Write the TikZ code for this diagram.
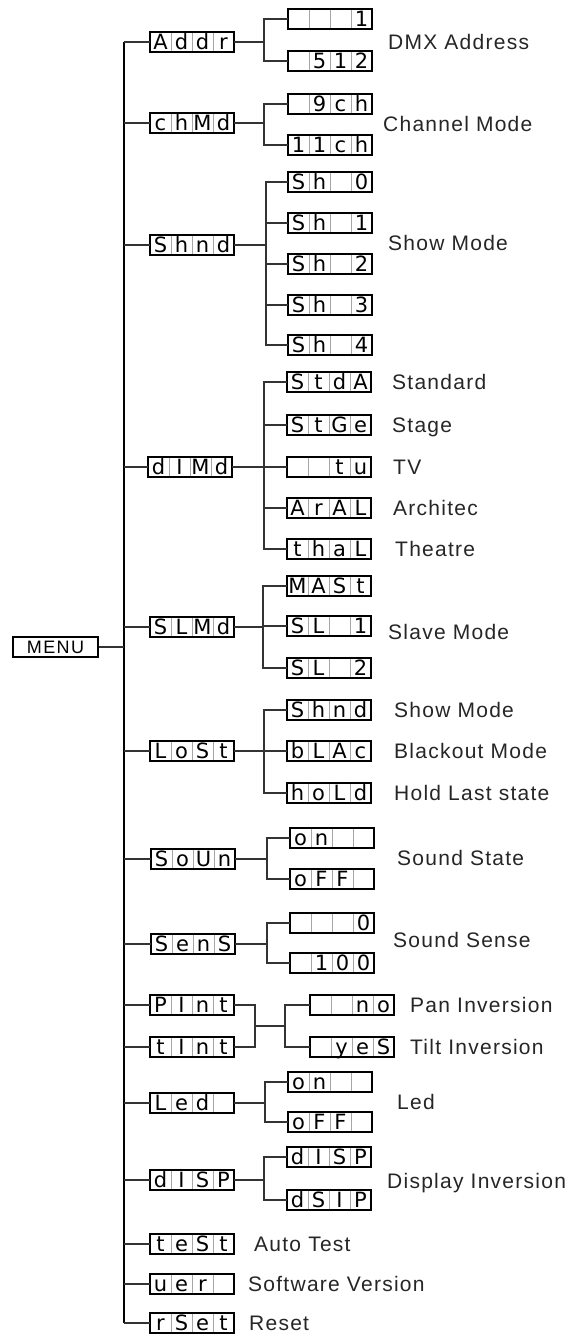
\documentclass[tikz,border=0pt]{standalone}
\usepackage{fontspec}
\newfontfamily\lblfont[LetterSpace=6]{Liberation Sans}
\newfontfamily\menufont[LetterSpace=8]{Liberation Sans}
\newfontfamily\segfont{DejaVu Sans}
\tikzset{
  dbox/.style={draw=black, line width=1.4pt, minimum width=84pt, minimum height=20pt, inner sep=0pt, outer sep=0pt},
  sepl/.style={draw=black!35, line width=0.6pt},
  dch/.style={anchor=base, inner sep=0pt, font=\segfont\fontsize{21}{21}\selectfont},
  lbl/.style={anchor=base west, inner sep=0pt, yshift=-7.5pt, font=\lblfont\fontsize{21}{24}\selectfont, text=black!85},
  conn/.style={draw=black!80, line width=1.1pt},
  trunk/.style={draw=black, line width=2pt},
}
\newcommand\seg[7]{%
  \node[dbox] (#1) at (#2,#3) {};
  \draw[sepl] ([xshift=-21pt,yshift=-0.7pt]#1.north) -- ([xshift=-21pt,yshift=0.7pt]#1.south)
              ([yshift=-0.7pt]#1.north) -- ([yshift=0.7pt]#1.south)
              ([xshift=21pt,yshift=-0.7pt]#1.north) -- ([xshift=21pt,yshift=0.7pt]#1.south);
  \node[dch] at ([xshift=-31.5pt,yshift=-7.8pt]#1.center) {#4};
  \node[dch] at ([xshift=-10.5pt,yshift=-7.8pt]#1.center) {#5};
  \node[dch] at ([xshift=10.5pt,yshift=-7.8pt]#1.center) {#6};
  \node[dch] at ([xshift=31.5pt,yshift=-7.8pt]#1.center) {#7};
}
\newcommand\grp[3]{%
  \path (#1.east) ++(#2,0) coordinate (#1b);
  \draw[conn] (#1.east) -- (#1b);
  \foreach \c in {#3} {\draw[conn] (\c.west) -| (#1b);}
}
\begin{document}
\begin{tikzpicture}[x=1pt,y=-1pt]
\useasboundingbox[fill=white] (0,0) rectangle (569,1334);
% MENU
\node[draw=black, line width=1.2pt, minimum width=85pt, minimum height=20pt, inner sep=0pt,
      font=\menufont\fontsize{18}{20}\selectfont] (menu) at (55.5,647) {MENU};
% level 1
\seg{addr}{192}{42}{A}{d}{d}{r}
\seg{chmd}{192}{123}{c}{h}{M}{d}
\seg{shmd}{192}{245}{S}{h}{n}{d}
\seg{dimd}{190}{467}{d}{I}{M}{d}
\seg{slmd}{192}{627}{S}{L}{M}{d}
\seg{lost}{192}{751}{L}{o}{S}{t}
\seg{soun}{193}{859}{S}{o}{U}{n}
\seg{sens}{193}{944}{S}{e}{n}{S}
\seg{pint}{192}{1005}{P}{I}{n}{t}
\seg{tint}{192}{1047}{t}{I}{n}{t}
\seg{led}{192}{1103}{L}{e}{d}{}
\seg{disp}{192}{1180}{d}{I}{S}{P}
\seg{test}{192}{1244}{t}{e}{S}{t}
\seg{ver}{192}{1284}{u}{e}{r}{}
\seg{rset}{192}{1323}{r}{S}{e}{t}
% children
\seg{a1}{330}{19}{}{}{}{1}
\seg{a2}{330}{61}{}{5}{1}{2}
\seg{c1}{330}{104}{}{9}{c}{h}
\seg{c2}{330}{145}{1}{1}{c}{h}
\seg{s0}{330}{182}{S}{h}{}{0}
\seg{s1}{330}{223}{S}{h}{}{1}
\seg{s2}{330}{264}{S}{h}{}{2}
\seg{s3}{330}{305}{S}{h}{}{3}
\seg{s4}{330}{345}{S}{h}{}{4}
\seg{d1}{329}{382}{S}{t}{d}{A}
\seg{d2}{329}{425}{S}{t}{G}{e}
\seg{d3}{329}{467}{}{}{t}{u}
\seg{d4}{329}{508}{A}{r}{A}{L}
\seg{d5}{329}{549}{t}{h}{a}{L}
\seg{m1}{329}{586}{M}{A}{S}{t}
\seg{m2}{329}{626}{S}{L}{}{1}
\seg{m3}{329}{668}{S}{L}{}{2}
\seg{o1}{329}{710}{S}{h}{n}{d}
\seg{o2}{329}{751}{b}{L}{A}{c}
\seg{o3}{329}{793}{h}{o}{L}{d}
\seg{u1}{332}{838}{o}{n}{}{}
\seg{u2}{332}{879}{o}{F}{F}{}
\seg{e1}{332}{923}{}{}{}{0}
\seg{e2}{332}{963}{}{1}{0}{0}
\seg{p1}{352}{1005}{}{}{n}{o}
\seg{p2}{352}{1047}{}{y}{e}{S}
\seg{l1}{330}{1082}{o}{n}{}{}
\seg{l2}{330}{1122}{o}{F}{F}{}
\seg{i1}{329}{1157}{d}{I}{S}{P}
\seg{i2}{329}{1200}{d}{S}{I}{P}
% trunk
\coordinate (tx) at (124,0);
\draw[trunk] (addr.west -| tx) -- (rset.west -| tx);
\foreach \p in {addr,chmd,shmd,dimd,slmd,lost,soun,sens,pint,tint,led,disp,test,ver,rset}
  {\draw[conn] (\p.west -| tx) -- (\p.west);}
\draw[conn] (menu.east) -- (menu.east -| tx);
% groups
\grp{addr}{30}{a1,a2}
\grp{chmd}{30}{c1,c2}
\grp{shmd}{32}{s0,s1,s2,s3,s4}
\grp{dimd}{32}{d1,d2,d3,d4,d5}
\grp{slmd}{29}{m1,m2,m3}
\grp{lost}{30}{o1,o2,o3}
\grp{soun}{32}{u1,u2}
\grp{sens}{32}{e1,e2}
\grp{led}{31}{l1,l2}
\grp{disp}{30}{i1,i2}
% pan/tilt
\coordinate (pv) at (255,1026);
\coordinate (cv) at (285,1026);
\draw[conn] (pint.east) -| (pv);
\draw[conn] (tint.east) -| (pv);
\draw[conn] (pv) -- (cv);
\draw[conn] (p1.west) -| (cv);
\draw[conn] (p2.west) -| (cv);
% labels
\node[lbl] (t1) at (388,42) {DMX Address};
\node[lbl] (t2) at (383,124) {Channel Mode};
\node[lbl] (t3) at (388,243) {Show Mode};
\node[lbl] (t4) at (392,382) {Standard};
\node[lbl] (t5) at (392,425) {Stage};
\node[lbl] (t6) at (393,467) {TV};
\node[lbl] (t7) at (393,508) {Architec};
\node[lbl] (t8) at (395,549) {Theatre};
\node[lbl] (t9) at (388,632) {Slave Mode};
\node[lbl] (t10) at (394,710) {Show Mode};
\node[lbl] (t11) at (394,751) {Blackout Mode};
\node[lbl] (t12) at (394,793) {Hold Last state};
\node[lbl] (t13) at (397,858) {Sound State};
\node[lbl] (t14) at (393,940) {Sound Sense};
\node[lbl] (t15) at (410,1005) {Pan Inversion};
\node[lbl] (t16) at (410,1047) {Tilt Inversion};
\node[lbl] (t17) at (397,1102) {Led};
\node[lbl] (t18) at (387,1181) {Display Inversion};
\node[lbl] (t19) at (254,1244) {Auto Test};
\node[lbl] (t20) at (248,1284) {Software Version};
\node[lbl] (t21) at (249,1323) {Reset};
\end{tikzpicture}
\end{document}
